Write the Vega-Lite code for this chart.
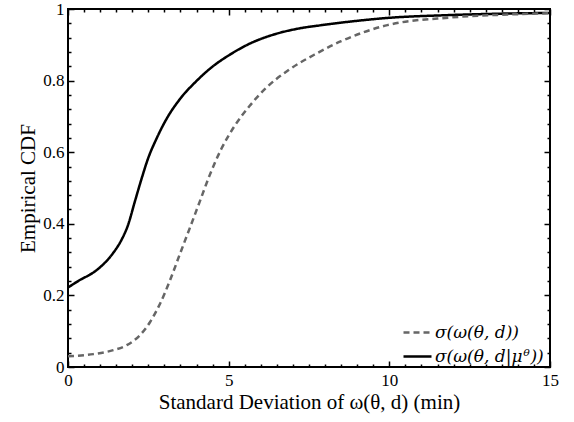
{
  "$schema": "https://vega.github.io/schema/vega-lite/v6.json",
  "width": 482,
  "height": 358,
  "autosize": {"type": "none"},
  "padding": {"left": 68, "top": 9, "right": 24, "bottom": 55},
  "background": "white",
  "config": {
    "view": {"stroke": "black", "strokeWidth": 2},
    "font": "Liberation Serif",
    "axis": {
      "labelFont": "Liberation Serif",
      "titleFont": "Liberation Serif",
      "labelColor": "black",
      "titleColor": "black",
      "labelFontSize": 17,
      "titleFontSize": 21,
      "titleFontWeight": "normal",
      "domain": false,
      "grid": false,
      "tickColor": "black",
      "tickWidth": 1.5
    }
  },
  "data": {
    "values": [
      {"x": 0, "y": 0.222, "s": "σ(ω(θ, d|μᶿ))"},
      {"x": 0.37, "y": 0.243, "s": "σ(ω(θ, d|μᶿ))"},
      {"x": 0.79, "y": 0.264, "s": "σ(ω(θ, d|μᶿ))"},
      {"x": 1.1, "y": 0.287, "s": "σ(ω(θ, d|μᶿ))"},
      {"x": 1.41, "y": 0.319, "s": "σ(ω(θ, d|μᶿ))"},
      {"x": 1.67, "y": 0.356, "s": "σ(ω(θ, d|μᶿ))"},
      {"x": 1.87, "y": 0.397, "s": "σ(ω(θ, d|μᶿ))"},
      {"x": 2.08, "y": 0.462, "s": "σ(ω(θ, d|μᶿ))"},
      {"x": 2.29, "y": 0.526, "s": "σ(ω(θ, d|μᶿ))"},
      {"x": 2.49, "y": 0.582, "s": "σ(ω(θ, d|μᶿ))"},
      {"x": 2.75, "y": 0.637, "s": "σ(ω(θ, d|μᶿ))"},
      {"x": 3.06, "y": 0.692, "s": "σ(ω(θ, d|μᶿ))"},
      {"x": 3.48, "y": 0.748, "s": "σ(ω(θ, d|μᶿ))"},
      {"x": 4.0, "y": 0.799, "s": "σ(ω(θ, d|μᶿ))"},
      {"x": 4.51, "y": 0.84, "s": "σ(ω(θ, d|μᶿ))"},
      {"x": 5.03, "y": 0.872, "s": "σ(ω(θ, d|μᶿ))"},
      {"x": 5.65, "y": 0.903, "s": "σ(ω(θ, d|μᶿ))"},
      {"x": 6.38, "y": 0.928, "s": "σ(ω(θ, d|μᶿ))"},
      {"x": 7.15, "y": 0.945, "s": "σ(ω(θ, d|μᶿ))"},
      {"x": 7.9, "y": 0.955, "s": "σ(ω(θ, d|μᶿ))"},
      {"x": 8.8, "y": 0.965, "s": "σ(ω(θ, d|μᶿ))"},
      {"x": 9.94, "y": 0.975, "s": "σ(ω(θ, d|μᶿ))"},
      {"x": 11.86, "y": 0.983, "s": "σ(ω(θ, d|μᶿ))"},
      {"x": 13.5, "y": 0.987, "s": "σ(ω(θ, d|μᶿ))"},
      {"x": 15, "y": 0.989, "s": "σ(ω(θ, d|μᶿ))"},
      {"x": 0, "y": 0.03, "s": "σ(ω(θ, d))"},
      {"x": 0.79, "y": 0.036, "s": "σ(ω(θ, d))"},
      {"x": 1.41, "y": 0.047, "s": "σ(ω(θ, d))"},
      {"x": 1.83, "y": 0.061, "s": "σ(ω(θ, d))"},
      {"x": 2.24, "y": 0.089, "s": "σ(ω(θ, d))"},
      {"x": 2.55, "y": 0.125, "s": "σ(ω(θ, d))"},
      {"x": 2.86, "y": 0.176, "s": "σ(ω(θ, d))"},
      {"x": 3.17, "y": 0.241, "s": "σ(ω(θ, d))"},
      {"x": 3.48, "y": 0.315, "s": "σ(ω(θ, d))"},
      {"x": 3.79, "y": 0.388, "s": "σ(ω(θ, d))"},
      {"x": 4.1, "y": 0.462, "s": "σ(ω(θ, d))"},
      {"x": 4.41, "y": 0.536, "s": "σ(ω(θ, d))"},
      {"x": 4.77, "y": 0.609, "s": "σ(ω(θ, d))"},
      {"x": 5.19, "y": 0.674, "s": "σ(ω(θ, d))"},
      {"x": 5.65, "y": 0.729, "s": "σ(ω(θ, d))"},
      {"x": 6.17, "y": 0.78, "s": "σ(ω(θ, d))"},
      {"x": 6.89, "y": 0.831, "s": "σ(ω(θ, d))"},
      {"x": 7.72, "y": 0.875, "s": "σ(ω(θ, d))"},
      {"x": 8.5, "y": 0.91, "s": "σ(ω(θ, d))"},
      {"x": 9.94, "y": 0.955, "s": "σ(ω(θ, d))"},
      {"x": 11.86, "y": 0.976, "s": "σ(ω(θ, d))"},
      {"x": 13.5, "y": 0.984, "s": "σ(ω(θ, d))"},
      {"x": 15, "y": 0.988, "s": "σ(ω(θ, d))"}
    ]
  },
  "layer": [
    {
      "mark": {"type": "line", "strokeWidth": 2.5, "interpolate": "monotone", "clip": true},
      "encoding": {
        "x": {
          "field": "x", "type": "quantitative",
          "scale": {"domain": [0, 15], "nice": false, "zero": false},
          "axis": {
            "orient": "bottom",
            "title": "Standard Deviation of ω(θ, d) (min)",
            "values": [0, 5, 10, 15],
            "format": "d",
            "tickSize": -6,
            "labelPadding": 11,
            "labelFlush": false,
            "labelOverlap": false,
            "titlePadding": 3
          }
        },
        "y": {
          "field": "y", "type": "quantitative",
          "scale": {"domain": [0, 1], "nice": false},
          "axis": {
            "orient": "left",
            "title": "Empirical CDF",
            "values": [0, 0.2, 0.4, 0.6, 0.8, 1],
            "labelExpr": "datum.value == 0 || datum.value == 1 ? format(datum.value, 'd') : format(datum.value, '.1f')",
            "tickSize": -6,
            "labelPadding": 10,
            "labelFlush": false,
            "labelOverlap": false,
            "titlePadding": 4
          }
        },
        "color": {
          "field": "s", "type": "nominal",
          "scale": {"domain": ["σ(ω(θ, d))", "σ(ω(θ, d|μᶿ))"], "range": ["#666666", "#000000"]},
          "legend": {
            "title": null,
            "orient": "none",
            "legendX": 334,
            "legendY": 308,
            "padding": 0,
            "symbolType": "stroke",
            "symbolSize": 784,
            "symbolStrokeWidth": 2.5,
            "labelFont": "DejaVu Serif",
            "labelFontSize": 17,
            "labelFontStyle": "italic",
            "labelColor": "black",
            "labelOffset": 2,
            "rowPadding": -18,
            "labelLimit": 300
          }
        },
        "strokeDash": {
          "field": "s", "type": "nominal",
          "scale": {"domain": ["σ(ω(θ, d))", "σ(ω(θ, d|μᶿ))"], "range": [[6, 4], [1, 0]]},
          "legend": {
            "title": null,
            "orient": "none",
            "legendX": 334,
            "legendY": 308,
            "padding": 0,
            "symbolType": "stroke",
            "symbolSize": 784,
            "symbolStrokeWidth": 2.5,
            "labelFont": "DejaVu Serif",
            "labelFontSize": 17,
            "labelFontStyle": "italic",
            "labelColor": "black",
            "labelOffset": 2,
            "rowPadding": -18,
            "labelLimit": 300
          }
        }
      }
    },
    {
      "mark": {"type": "line", "opacity": 0},
      "encoding": {
        "x": {
          "field": "x", "type": "quantitative",
          "scale": {"domain": [0, 15], "nice": false, "zero": false},
          "axis": {
            "orient": "bottom", "title": null, "labels": false,
            "values": [0.5,1,1.5,2,2.5,3,3.5,4,4.5,5.5,6,6.5,7,7.5,8,8.5,9,9.5,10.5,11,11.5,12,12.5,13,13.5,14,14.5],
            "tickSize": -3
          }
        },
        "y": {
          "field": "y", "type": "quantitative",
          "scale": {"domain": [0, 1], "nice": false},
          "axis": {
            "orient": "left", "title": null, "labels": false,
            "values": [0.04,0.08,0.12,0.16,0.24,0.28,0.32,0.36,0.44,0.48,0.52,0.56,0.64,0.68,0.72,0.76,0.84,0.88,0.92,0.96],
            "tickSize": -3
          }
        }
      }
    },
    {
      "mark": {"type": "line", "opacity": 0},
      "encoding": {
        "x": {
          "field": "x", "type": "quantitative",
          "scale": {"domain": [0, 15], "nice": false, "zero": false},
          "axis": {
            "orient": "top", "title": null, "labels": false,
            "values": [0, 5, 10, 15],
            "tickSize": -6
          }
        },
        "y": {
          "field": "y", "type": "quantitative",
          "scale": {"domain": [0, 1], "nice": false},
          "axis": {
            "orient": "right", "title": null, "labels": false,
            "values": [0, 0.2, 0.4, 0.6, 0.8, 1],
            "tickSize": -6
          }
        }
      }
    },
    {
      "mark": {"type": "line", "opacity": 0},
      "encoding": {
        "x": {
          "field": "x", "type": "quantitative",
          "scale": {"domain": [0, 15], "nice": false, "zero": false},
          "axis": {
            "orient": "top", "title": null, "labels": false,
            "values": [0.5,1,1.5,2,2.5,3,3.5,4,4.5,5.5,6,6.5,7,7.5,8,8.5,9,9.5,10.5,11,11.5,12,12.5,13,13.5,14,14.5],
            "tickSize": -3
          }
        },
        "y": {
          "field": "y", "type": "quantitative",
          "scale": {"domain": [0, 1], "nice": false},
          "axis": {
            "orient": "right", "title": null, "labels": false,
            "values": [0.04,0.08,0.12,0.16,0.24,0.28,0.32,0.36,0.44,0.48,0.52,0.56,0.64,0.68,0.72,0.76,0.84,0.88,0.92,0.96],
            "tickSize": -3
          }
        }
      }
    }
  ],
  "resolve": {"scale": {"x": "independent", "y": "independent"}}
}
